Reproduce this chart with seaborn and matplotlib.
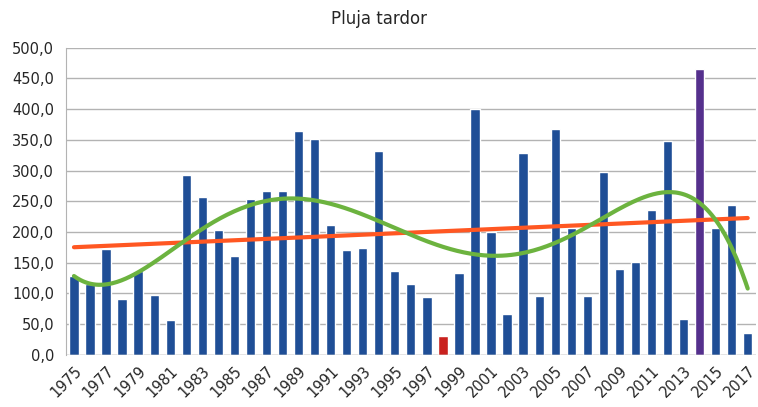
import numpy as np
import pandas as pd
import matplotlib
matplotlib.use('Agg')
import matplotlib.pyplot as plt
import seaborn as sb
from matplotlib.ticker import FuncFormatter

# Dades: pluja de tardor per any
anys = list(range(1975, 2018))
pluja = [128, 115, 173, 91, 137, 97, 57, 293, 257, 203,
         161, 253, 267, 267, 364, 352, 211, 170, 174, 331,
         137, 116, 94, 31, 134, 400, 200, 67, 328, 96,
         367, 206, 96, 298, 140, 151, 236, 348, 58, 466,
         207, 244, 35]
any_minim = 1998
any_maxim = 2014

colors = {a: '#1f4e96' for a in anys}
colors[any_minim] = '#c9211e'
colors[any_maxim] = '#55308d'

df = pd.DataFrame({'any': [str(a) for a in anys], 'pluja': pluja})

sb.set_style('white')
plt.rcParams['font.family'] = ['DejaVu Sans']

fig = plt.figure(figsize=(7.58, 4.07), dpi=100)
ax = fig.add_axes([0.087, 0.128, 0.91, 0.755])

sb.barplot(data=df, x='any', y='pluja', hue='any',
           palette={str(a): c for a, c in colors.items()},
           legend=False, width=0.58, saturation=1, ax=ax)

# Línies de tendència (lineal i polinòmica)
x = np.arange(len(anys))
lin = np.polyfit(x + 1, pluja, 1)
ax.plot(x, np.polyval(lin, x + 1), color='#ff5722', lw=3, zorder=4)
pol = np.polyfit(x + 1, pluja, 5)
xs = np.linspace(0, len(anys) - 1, 300)
ax.plot(xs, np.polyval(pol, xs + 1), color='#6cb33f', lw=3, zorder=5)

ax.set_ylim(0, 500)
ax.set_xlim(-0.5, len(anys) - 0.5)
ax.set_yticks(np.arange(0, 501, 50))
ax.yaxis.set_major_formatter(FuncFormatter(lambda v, p: f'{v:.1f}'.replace('.', ',')))
ax.grid(axis='y', color='#b3b3b3', lw=1)
ax.set_axisbelow(True)
for s in ['top', 'right', 'bottom']:
    ax.spines[s].set_visible(False)
ax.spines['left'].set_color('#b3b3b3')
ax.axhline(0, color='#b3b3b3', lw=1)

ax.set_xticks(x[::2])
ax.set_xticklabels([str(a) for a in anys[::2]], rotation=45, ha='right',
                   rotation_mode='anchor', fontsize=10.5)
ax.set_xticks(np.arange(len(anys) + 1) - 0.5, minor=True)
ax.tick_params(axis='x', which='major', length=0, pad=6)
ax.tick_params(axis='x', which='minor', length=5, color='#b3b3b3')
ax.tick_params(axis='y', length=5, color='#b3b3b3', labelsize=10.5)
ax.set_xlabel('')
ax.set_ylabel('')

fig.suptitle('Pluja tardor', y=0.975, fontsize=12)
fig.savefig('out.png', dpi=100)
